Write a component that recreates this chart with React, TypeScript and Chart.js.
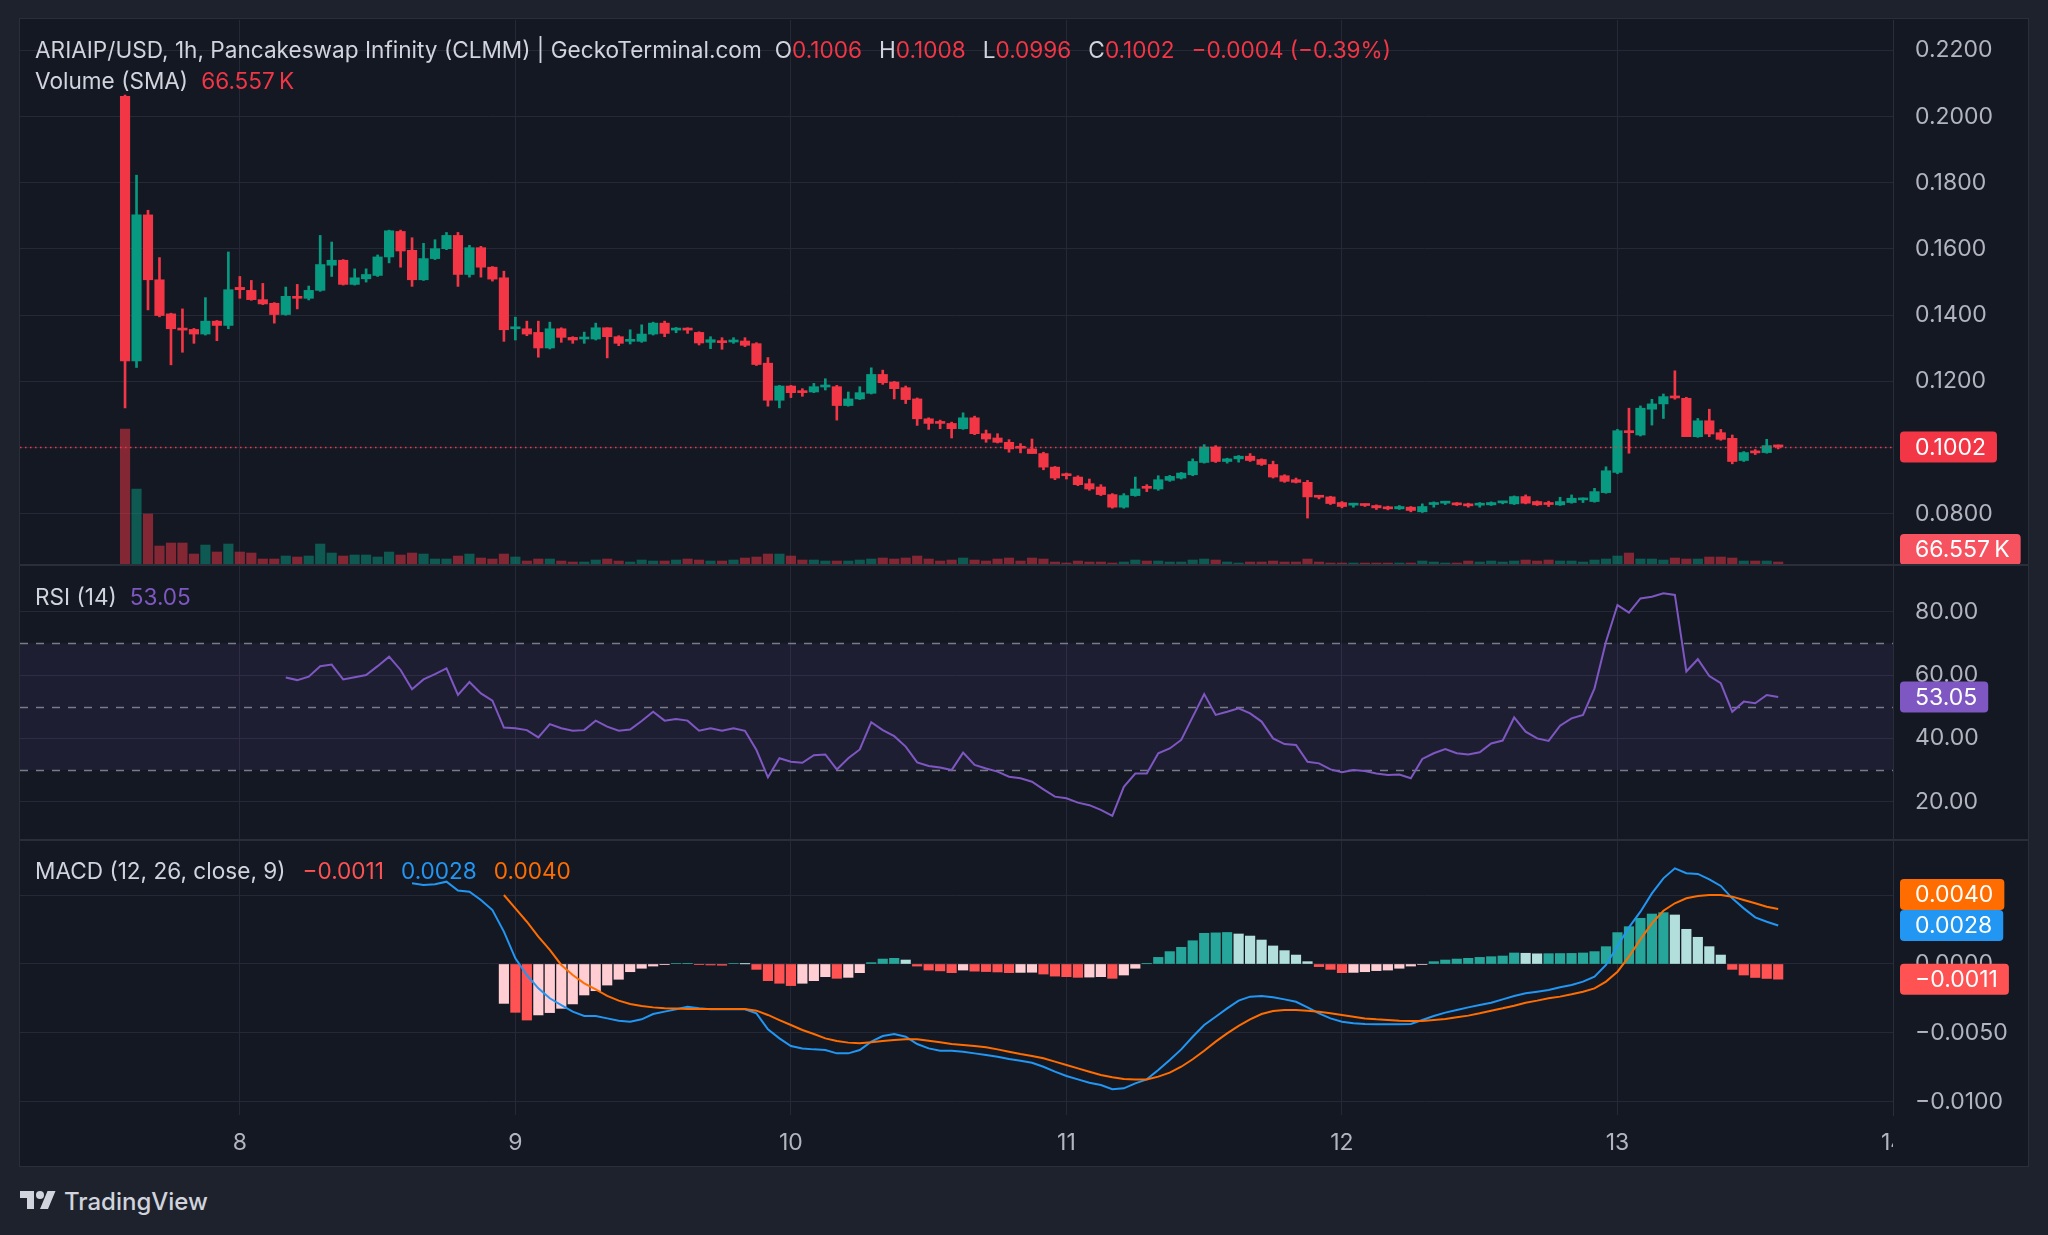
import React, { useEffect, useRef } from "react";
import { Chart, registerables } from "chart.js";
Chart.register(...registerables);

// ---------- data (hourly candles, index 0 = 7th 14:00) ----------
const OPEN = [
  0.2061, 0.1262, 0.1703, 0.1507, 0.1404, 0.1359, 0.1357, 0.1343, 0.1382, 0.1369,
  0.1484, 0.1475, 0.1447, 0.1436, 0.1402, 0.1457, 0.1451, 0.1475, 0.1551, 0.1566,
  0.1493, 0.1510, 0.1520, 0.1576, 0.1653, 0.1596, 0.1507, 0.1571, 0.1601, 0.1641,
  0.1523, 0.1604, 0.1545, 0.1513, 0.1359, 0.1359, 0.1348, 0.1301, 0.1359, 0.1333,
  0.1328, 0.1328, 0.1362, 0.1335, 0.1321, 0.1321, 0.1343, 0.1376, 0.1355, 0.1357,
  0.1348, 0.1318, 0.1322, 0.1319, 0.1322, 0.1314, 0.1255, 0.1143, 0.1186, 0.1170,
  0.1168, 0.1183, 0.1184, 0.1127, 0.1147, 0.1164, 0.1221, 0.1198, 0.1181, 0.1147,
  0.1087, 0.1075, 0.1073, 0.1057, 0.1090, 0.1042, 0.1029, 0.1016, 0.1000, 0.0996,
  0.0982, 0.0941, 0.0918, 0.0911, 0.0891, 0.0881, 0.0858, 0.0820, 0.0855, 0.0879,
  0.0875, 0.0901, 0.0908, 0.0918, 0.0955, 0.1002, 0.0958, 0.0966, 0.0974, 0.0964,
  0.0949, 0.0915, 0.0903, 0.0895, 0.0853, 0.0851, 0.0834, 0.0826, 0.0828, 0.0825,
  0.0821, 0.0815, 0.0820, 0.0806, 0.0828, 0.0832, 0.0832, 0.0830, 0.0826, 0.0827,
  0.0833, 0.0830, 0.0852, 0.0837, 0.0832, 0.0827, 0.0834, 0.0842, 0.0837, 0.0864,
  0.0925, 0.1048, 0.1038, 0.1116, 0.1132, 0.1154, 0.1149, 0.1033, 0.1081, 0.1045,
  0.1028, 0.0961, 0.0986, 0.0985, 0.1006,
];
const HIGH = [
  0.2065, 0.1823, 0.1717, 0.1574, 0.1406, 0.1419, 0.1360, 0.1453, 0.1384, 0.1591,
  0.1517, 0.1505, 0.1496, 0.1438, 0.1485, 0.1493, 0.1488, 0.1641, 0.1621, 0.1568,
  0.1540, 0.1540, 0.1582, 0.1657, 0.1657, 0.1634, 0.1617, 0.1628, 0.1650, 0.1650,
  0.1611, 0.1608, 0.1547, 0.1533, 0.1394, 0.1382, 0.1382, 0.1379, 0.1362, 0.1335,
  0.1349, 0.1376, 0.1362, 0.1338, 0.1356, 0.1371, 0.1379, 0.1382, 0.1363, 0.1362,
  0.1350, 0.1335, 0.1332, 0.1332, 0.1332, 0.1317, 0.1272, 0.1188, 0.1188, 0.1178,
  0.1194, 0.1208, 0.1188, 0.1168, 0.1184, 0.1241, 0.1234, 0.1200, 0.1186, 0.1150,
  0.1090, 0.1083, 0.1077, 0.1105, 0.1095, 0.1053, 0.1042, 0.1024, 0.1012, 0.1026,
  0.0986, 0.0943, 0.0923, 0.0915, 0.0905, 0.0888, 0.0861, 0.0861, 0.0911, 0.0888,
  0.0915, 0.0916, 0.0925, 0.0966, 0.1009, 0.1006, 0.0968, 0.0976, 0.0982, 0.0966,
  0.0959, 0.0918, 0.0908, 0.0901, 0.0855, 0.0853, 0.0837, 0.0832, 0.0830, 0.0827,
  0.0823, 0.0825, 0.0822, 0.0830, 0.0836, 0.0838, 0.0834, 0.0832, 0.0834, 0.0836,
  0.0838, 0.0854, 0.0857, 0.0839, 0.0838, 0.0850, 0.0857, 0.0848, 0.0877, 0.0942,
  0.1055, 0.1119, 0.1126, 0.1146, 0.1162, 0.1232, 0.1152, 0.1088, 0.1116, 0.1055,
  0.1038, 0.0988, 0.0994, 0.1025, 0.1008,
];
const LOW = [
  0.1120, 0.1242, 0.1416, 0.1395, 0.1250, 0.1288, 0.1315, 0.1340, 0.1323, 0.1359,
  0.1451, 0.1445, 0.1432, 0.1376, 0.1400, 0.1419, 0.1446, 0.1472, 0.1517, 0.1491,
  0.1491, 0.1500, 0.1517, 0.1558, 0.1545, 0.1487, 0.1505, 0.1568, 0.1598, 0.1487,
  0.1515, 0.1515, 0.1503, 0.1321, 0.1325, 0.1338, 0.1273, 0.1298, 0.1318, 0.1315,
  0.1315, 0.1325, 0.1271, 0.1308, 0.1313, 0.1318, 0.1340, 0.1335, 0.1347, 0.1345,
  0.1310, 0.1299, 0.1297, 0.1315, 0.1305, 0.1248, 0.1125, 0.1120, 0.1151, 0.1155,
  0.1166, 0.1174, 0.1083, 0.1125, 0.1145, 0.1162, 0.1191, 0.1147, 0.1133, 0.1067,
  0.1055, 0.1057, 0.1029, 0.1055, 0.1039, 0.1016, 0.1014, 0.0986, 0.0984, 0.0982,
  0.0933, 0.0903, 0.0905, 0.0885, 0.0871, 0.0855, 0.0817, 0.0817, 0.0853, 0.0867,
  0.0871, 0.0898, 0.0905, 0.0915, 0.0953, 0.0955, 0.0953, 0.0956, 0.0958, 0.0946,
  0.0908, 0.0895, 0.0893, 0.0787, 0.0845, 0.0828, 0.0818, 0.0820, 0.0822, 0.0813,
  0.0812, 0.0813, 0.0806, 0.0804, 0.0820, 0.0828, 0.0825, 0.0820, 0.0820, 0.0825,
  0.0830, 0.0828, 0.0830, 0.0825, 0.0822, 0.0825, 0.0832, 0.0834, 0.0835, 0.0862,
  0.0921, 0.0983, 0.1035, 0.1068, 0.1088, 0.1146, 0.1033, 0.1031, 0.1033, 0.1022,
  0.0951, 0.0958, 0.0979, 0.0983, 0.0996,
];
const CLOSE = [
  0.1262, 0.1703, 0.1507, 0.1399, 0.1359, 0.1355, 0.1343, 0.1382, 0.1369, 0.1477,
  0.1477, 0.1447, 0.1434, 0.1402, 0.1457, 0.1451, 0.1475, 0.1553, 0.1566, 0.1493,
  0.1513, 0.1523, 0.1576, 0.1655, 0.1594, 0.1507, 0.1571, 0.1601, 0.1641, 0.1523,
  0.1604, 0.1545, 0.1509, 0.1356, 0.1362, 0.1343, 0.1301, 0.1359, 0.1333, 0.1325,
  0.1331, 0.1362, 0.1335, 0.1315, 0.1323, 0.1343, 0.1376, 0.1345, 0.1357, 0.1355,
  0.1316, 0.1326, 0.1317, 0.1325, 0.1309, 0.1251, 0.1143, 0.1186, 0.1166, 0.1166,
  0.1184, 0.1186, 0.1127, 0.1147, 0.1166, 0.1221, 0.1196, 0.1178, 0.1145, 0.1087,
  0.1073, 0.1073, 0.1057, 0.1090, 0.1042, 0.1026, 0.1016, 0.0996, 0.0998, 0.0982,
  0.0941, 0.0908, 0.0915, 0.0888, 0.0875, 0.0858, 0.0820, 0.0855, 0.0875, 0.0877,
  0.0903, 0.0913, 0.0923, 0.0958, 0.1002, 0.0958, 0.0966, 0.0974, 0.0961, 0.0949,
  0.0911, 0.0898, 0.0895, 0.0851, 0.0850, 0.0831, 0.0822, 0.0828, 0.0825, 0.0818,
  0.0815, 0.0822, 0.0810, 0.0822, 0.0830, 0.0834, 0.0827, 0.0824, 0.0828, 0.0834,
  0.0836, 0.0852, 0.0832, 0.0827, 0.0828, 0.0837, 0.0847, 0.0846, 0.0867, 0.0930,
  0.1051, 0.1045, 0.1119, 0.1132, 0.1154, 0.1150, 0.1033, 0.1081, 0.1041, 0.1025,
  0.0958, 0.0985, 0.0984, 0.1006, 0.1002,
];
const VOLUME_K = [
  2992, 1672, 1122, 418, 484, 484, 242, 440, 286, 462,
  286, 264, 132, 132, 198, 176, 198, 462, 264, 198,
  220, 220, 176, 286, 220, 264, 242, 132, 132, 198,
  242, 154, 132, 242, 176, 88, 132, 132, 88, 66,
  66, 110, 132, 88, 66, 110, 88, 88, 110, 132,
  110, 88, 88, 110, 154, 176, 242, 242, 198, 110,
  110, 88, 88, 88, 110, 132, 154, 132, 154, 198,
  132, 88, 110, 154, 110, 88, 132, 154, 88, 154,
  132, 66, 44, 88, 66, 66, 44, 66, 110, 88,
  88, 66, 66, 110, 132, 110, 66, 44, 66, 66,
  88, 66, 66, 132, 66, 44, 44, 44, 44, 44,
  44, 44, 44, 88, 66, 44, 44, 88, 66, 88,
  66, 88, 110, 88, 110, 88, 88, 66, 110, 132,
  198, 264, 132, 132, 110, 154, 132, 132, 176, 176,
  154, 88, 88, 88, 66.557,
];

const RSI_START = 14;
const RSI = [
  59.2, 58.4, 59.5, 62.8, 63.3, 58.6, 59.3, 60.0, 62.8, 65.8,
  61.6, 55.5, 58.6, 60.3, 62.1, 53.7, 57.8, 54.2, 51.9, 43.4,
  43.2, 42.6, 40.3, 44.5, 43.2, 42.4, 42.6, 45.6, 43.7, 42.4,
  42.8, 45.5, 48.4, 45.6, 46.1, 45.6, 42.4, 43.2, 42.4, 43.2,
  42.4, 36.3, 27.7, 33.7, 32.6, 32.3, 34.7, 34.9, 30.2, 33.7,
  36.5, 45.1, 42.6, 40.7, 37.4, 32.4, 31.3, 30.8, 30.0, 35.5,
  31.6, 30.5, 29.5, 27.9, 27.4, 26.3, 23.9, 21.6, 21.1, 19.7,
  18.9, 17.4, 15.5, 24.7, 28.9, 28.9, 35.3, 36.8, 39.5, 46.8,
  54.0, 47.4, 48.4, 49.5, 47.9, 45.3, 40.0, 38.2, 37.9, 32.6,
  32.1, 30.2, 29.3, 30.0, 29.7, 28.9, 28.4, 28.6, 27.4, 33.5,
  35.3, 36.6, 35.3, 34.9, 35.6, 38.4, 39.3, 46.6, 42.1, 40.0,
  39.2, 44.0, 46.3, 47.4, 55.8, 70.5, 82.1, 79.7, 84.2, 84.7,
  85.8, 85.3, 61.1, 65.0, 59.7, 57.4, 48.4, 51.6, 51.1, 53.7, 53.05,
];

const MACD_START = 25;
const MACD = [
  0.00586, 0.00574, 0.00579, 0.00598, 0.00533, 0.00525, 0.00465, 0.00392, 0.00235, 0.00041,
  -0.0008, -0.00177, -0.00249, -0.00298, -0.00346, -0.00378, -0.00378, -0.00395, -0.00412, -0.00419,
  -0.00402, -0.00363, -0.00346, -0.00329, -0.0031, -0.00322, -0.00329, -0.00329, -0.00329, -0.00329,
  -0.00358, -0.00475, -0.0054, -0.00596, -0.00613, -0.0062, -0.00625, -0.00649, -0.00649, -0.00625,
  -0.00564, -0.00523, -0.00508, -0.00528, -0.00581, -0.00613, -0.0063, -0.0063, -0.00637, -0.00649,
  -0.00661, -0.00673, -0.0069, -0.00702, -0.00717, -0.00746, -0.00782, -0.00813, -0.00838, -0.00862,
  -0.00879, -0.0091, -0.00903, -0.00867, -0.00838, -0.0077, -0.00697, -0.0062, -0.00528, -0.00443,
  -0.00383, -0.00322, -0.00266, -0.00237, -0.00232, -0.00242, -0.00257, -0.00274, -0.00315, -0.00358,
  -0.00395, -0.00419, -0.00431, -0.00436, -0.00438, -0.00438, -0.00438, -0.00436, -0.00407, -0.00378,
  -0.00353, -0.00334, -0.00315, -0.00298, -0.00281, -0.00257, -0.00232, -0.00213, -0.00201, -0.00189,
  -0.00169, -0.00153, -0.00128, -0.00092, -0.00007, 0.00131, 0.00266, 0.0038, 0.00513, 0.00622,
  0.00695, 0.00659, 0.00654, 0.00615, 0.00567, 0.00477, 0.00404, 0.00339, 0.00307, 0.0028,
];

const SIGNAL_START = 33;
const SIGNAL = [
  0.00501, 0.00404, 0.00307, 0.00199, 0.00102, -0.00007, -0.0008, -0.0014, -0.00184, -0.00232,
  -0.00266, -0.00291, -0.00305, -0.00315, -0.00322, -0.00324, -0.00327, -0.00327, -0.00327, -0.00327,
  -0.00327, -0.00327, -0.00339, -0.0037, -0.00407, -0.00443, -0.00479, -0.00508, -0.0054, -0.00559,
  -0.00571, -0.00576, -0.00569, -0.00559, -0.00552, -0.00547, -0.00547, -0.00557, -0.00569, -0.00581,
  -0.00588, -0.00596, -0.00605, -0.0062, -0.00637, -0.00654, -0.00668, -0.00685, -0.00709, -0.00734,
  -0.00758, -0.00782, -0.00806, -0.00823, -0.00835, -0.00838, -0.00838, -0.00818, -0.00789, -0.00746,
  -0.00692, -0.0063, -0.00564, -0.00504, -0.0045, -0.00402, -0.00363, -0.00341, -0.00334, -0.00334,
  -0.00339, -0.00346, -0.00358, -0.0037, -0.00383, -0.00395, -0.00402, -0.00407, -0.00412, -0.00414,
  -0.00414, -0.00407, -0.004, -0.00387, -0.00375, -0.00358, -0.00339, -0.00322, -0.00303, -0.00281,
  -0.00266, -0.00249, -0.00237, -0.0022, -0.00201, -0.00177, -0.00128, -0.00056, 0.00053, 0.00179,
  0.00295, 0.00387, 0.00441, 0.00477, 0.00494, 0.00501, 0.00501, 0.00489, 0.00465, 0.00441,
  0.00416, 0.004,
];

const HIST_START = 33;
const HIST = [
  -0.00286, -0.00351, -0.00407, -0.0037, -0.00353, -0.00322, -0.0029, -0.00225, -0.00194, -0.00153,
  -0.00111, -0.00056, -0.00031, -0.00015, -0.00005, 0.00004, 0.00005, -0.00005, -0.00007, -0.00009,
  0.00003, 0.00001, -0.00039, -0.00121, -0.0014, -0.00157, -0.0014, -0.00121, -0.00092, -0.00104,
  -0.00097, -0.00063, 0.0001, 0.00036, 0.00041, 0.00029, -0.00015, -0.00044, -0.0005, -0.00063,
  -0.00044, -0.00052, -0.00055, -0.00058, -0.00063, -0.00061, -0.0006, -0.00073, -0.00088, -0.00092,
  -0.00097, -0.00095, -0.00092, -0.00104, -0.0008, -0.00031, 0.00002, 0.00048, 0.0009, 0.00121,
  0.00169, 0.00223, 0.00226, 0.00229, 0.00218, 0.00203, 0.00174, 0.00131, 0.00097, 0.00065,
  0.00017, -0.00019, -0.00039, -0.00063, -0.00061, -0.00056, -0.00048, -0.00044, -0.00031, -0.00015,
  -0.00003, 0.00017, 0.00029, 0.00036, 0.00041, 0.00048, 0.00053, 0.00058, 0.0008, 0.00078,
  0.00074, 0.00075, 0.00076, 0.00077, 0.0008, 0.0009, 0.00126, 0.00228, 0.00271, 0.00332,
  0.00363, 0.00373, 0.00356, 0.00252, 0.00194, 0.00126, 0.00065, -0.00039, -0.0008, -0.00098,
  -0.00105, -0.0011,
];

const DAY_TICKS = [10, 34, 58, 82, 106, 130, 154];
const DAY_LABELS = ["8", "9", "10", "11", "12", "13", "14"];
const PRICE_TICKS = [0.08, 0.1, 0.12, 0.14, 0.16, 0.18, 0.2, 0.22];
const RSI_TICKS = [20, 40, 60, 80];
const MACD_TICKS = [-0.01, -0.005, 0, 0.005];

const TITLE = "ARIAIP/USD, 1h, Pancakeswap Infinity (CLMM) | GeckoTerminal.com";
const CHANGE_TEXT = "\u22120.0004 (\u22120.39%)";

// ---------- scale ranges ----------
const X_MIN = -9.15;
const X_MAX = 154.0;
const PRICE_MIN = 0.06453;
const PRICE_MAX = 0.22918;
const VOL_AXIS_MAX = 12000;
const RSI_MIN = 7.9;
const RSI_MAX = 94.75;
const MACD_MIN = -0.010966;
const MACD_MAX = 0.009005;

// ---------- style ----------
const FONT = "Inter, 'Noto Sans', 'DejaVu Sans', sans-serif";
const AXIS_FONT_SIZE = 23;
const HEAD_FONT_SIZE = 22.6;
const AXIS_W = 135;
const BG_OUTER = "#1E222D";
const BG_PANEL = "#141823";
const PANEL_BORDER = "#2A2E39";
const GRID = "#252937";
const SEP = "#2A2E39";
const TEXT = "#D1D4DC";
const AXIS_TEXT = "#B2B5BE";
const UP = "#089981";
const DOWN = "#F23645";
const VOL_UP = "rgba(8,153,129,0.5)";
const VOL_DOWN = "rgba(242,54,69,0.5)";
const RSI_COLOR = "#7E57C2";
const MACD_COLOR = "#2196F3";
const SIGNAL_COLOR = "#FF6D00";

const LAST = CLOSE.length - 1;
const IDX = CLOSE.map((_, i) => i);
const isUp = (i: number) => CLOSE[i] >= OPEN[i];

const fmtPrice = (v: number) => v.toFixed(4);
const fmtSigned4 = (v: number) => (v < 0 ? "\u2212" : "") + Math.abs(v).toFixed(4);
const fmtRsi = (v: number) => v.toFixed(2);
const fmtVol = (v: number) => v.toFixed(3) + "\u202FK";

type Box = { y: number; text: string; bg: string };
function drawBoxes(chart: any, boxes: Box[]) {
  const { ctx, chartArea } = chart;
  const h = 31;
  const list = boxes.map((b) => ({
    ...b,
    y: Math.max(chartArea.top + h / 2, Math.min(chartArea.bottom - h / 2, b.y)),
  }));
  list.sort((a, b) => b.y - a.y);
  for (let k = 1; k < list.length; k++) {
    if (list[k].y > list[k - 1].y - h) list[k].y = list[k - 1].y - h;
  }
  ctx.save();
  ctx.font = `${AXIS_FONT_SIZE}px ${FONT}`;
  ctx.textBaseline = "middle";
  ctx.textAlign = "left";
  list.forEach((b) => {
    const w = ctx.measureText(b.text).width;
    const x0 = chartArea.right + 7;
    ctx.fillStyle = b.bg;
    ctx.beginPath();
    ctx.roundRect(x0, b.y - h / 2, w + 26, h, 4);
    ctx.fill();
    ctx.fillStyle = "#FFFFFF";
    ctx.fillText(b.text, chartArea.right + 22, b.y + 1);
  });
  ctx.restore();
}

function zeroPadding(s: any) {
  s.paddingTop = 0;
  s.paddingBottom = 0;
  s.paddingLeft = 0;
  s.paddingRight = 0;
}

function xScaleCfg(axisHeight: number) {
  return {
    type: "linear",
    min: X_MIN,
    max: X_MAX,
    offset: false,
    afterBuildTicks: (s: any) => {
      s.ticks = DAY_TICKS.map((v) => ({ value: v }));
    },
    afterFit: (s: any) => {
      s.height = axisHeight;
      zeroPadding(s);
    },
    grid: { color: GRID, lineWidth: 1, drawTicks: false, offset: false },
    border: { display: false },
    ticks: { display: false },
  };
}

function yScaleCfg(min: number, max: number, ticks: number[], fmt: (v: number) => string) {
  return {
    type: "linear",
    position: "right",
    min,
    max,
    afterBuildTicks: (s: any) => {
      s.ticks = ticks.map((v) => ({ value: v }));
    },
    afterFit: (s: any) => {
      s.width = AXIS_W;
      zeroPadding(s);
    },
    grid: { color: GRID, lineWidth: 1, drawTicks: false },
    border: { display: true, color: SEP, width: 1 },
    ticks: {
      color: AXIS_TEXT,
      font: { family: FONT, size: AXIS_FONT_SIZE },
      padding: 22,
      autoSkip: false,
      callback: (v: any) => fmt(Number(v)),
    },
  };
}

const baseOptions = {
  responsive: false,
  animation: false,
  devicePixelRatio: 1,
  events: [],
  layout: { padding: 0, autoPadding: false },
  plugins: { legend: { display: false }, tooltip: { enabled: false } },
};

function buildMain(canvas: HTMLCanvasElement) {
  const lastLine = {
    id: "lastLine",
    afterDatasetsDraw(chart: any) {
      const { ctx, chartArea: a, scales } = chart;
      const y = Math.round(scales.y.getPixelForValue(CLOSE[LAST])) + 0.5;
      ctx.save();
      ctx.strokeStyle = DOWN;
      ctx.lineWidth = 1.5;
      ctx.setLineDash([1.5, 3.5]);
      ctx.beginPath();
      ctx.moveTo(a.left, y);
      ctx.lineTo(a.right, y);
      ctx.stroke();
      ctx.restore();
    },
  };
  const boxes = {
    id: "mainBoxes",
    afterDraw(chart: any) {
      drawBoxes(chart, [
        { y: chart.scales.y.getPixelForValue(CLOSE[LAST]), text: fmtPrice(CLOSE[LAST]), bg: isUp(LAST) ? UP : DOWN },
        { y: chart.scales.yv.getPixelForValue(VOLUME_K[LAST]), text: fmtVol(VOLUME_K[LAST]), bg: "#F7525F" },
      ]);
    },
  };
  return new Chart(canvas, {
    type: "bar",
    data: {
      datasets: [
        {
          label: "Volume",
          yAxisID: "yv",
          data: IDX.map((i) => ({ x: i, y: VOLUME_K[i] })),
          backgroundColor: IDX.map((i) => (isUp(i) ? VOL_UP : VOL_DOWN)),
          barThickness: 9.5,
          grouped: false,
          order: 3,
        },
        {
          label: "Wick",
          yAxisID: "y",
          data: IDX.map((i) => ({ x: i, y: [LOW[i], HIGH[i]] })),
          backgroundColor: IDX.map((i) => (isUp(i) ? UP : DOWN)),
          barThickness: 2,
          grouped: false,
          order: 2,
        },
        {
          label: "Body",
          yAxisID: "y",
          data: IDX.map((i) => ({ x: i, y: [OPEN[i], CLOSE[i]] })),
          backgroundColor: IDX.map((i) => (isUp(i) ? UP : DOWN)),
          barThickness: 9.5,
          minBarLength: 2,
          grouped: false,
          order: 1,
        },
      ],
    },
    options: {
      ...baseOptions,
      scales: {
        x: xScaleCfg(0),
        y: yScaleCfg(PRICE_MIN, PRICE_MAX, PRICE_TICKS, fmtPrice),
        yv: { type: "linear", display: false, min: 0, max: VOL_AXIS_MAX, afterFit: zeroPadding },
      },
    },
    plugins: [lastLine, boxes],
  } as any);
}

function buildRsi(canvas: HTMLCanvasElement) {
  const band = {
    id: "rsiBand",
    beforeDatasetsDraw(chart: any) {
      const { ctx, chartArea: a, scales } = chart;
      const y = scales.y;
      const top = y.getPixelForValue(70);
      const bot = y.getPixelForValue(30);
      ctx.save();
      ctx.fillStyle = "rgba(126,87,194,0.1)";
      ctx.fillRect(a.left, top, a.right - a.left, bot - top);
      ctx.strokeStyle = "#787B86";
      ctx.lineWidth = 1.5;
      ctx.setLineDash([8, 8]);
      [70, 50, 30].forEach((v) => {
        const yy = Math.round(y.getPixelForValue(v)) + 0.5;
        ctx.beginPath();
        ctx.moveTo(a.left, yy);
        ctx.lineTo(a.right, yy);
        ctx.stroke();
      });
      ctx.restore();
    },
  };
  const boxes = {
    id: "rsiBoxes",
    afterDraw(chart: any) {
      const v = RSI[RSI.length - 1];
      drawBoxes(chart, [{ y: chart.scales.y.getPixelForValue(v), text: fmtRsi(v), bg: RSI_COLOR }]);
    },
  };
  return new Chart(canvas, {
    type: "line",
    data: {
      datasets: [
        {
          label: "RSI",
          data: RSI.map((v, k) => ({ x: k + RSI_START, y: v })),
          borderColor: RSI_COLOR,
          borderWidth: 2,
          pointRadius: 0,
          tension: 0,
        },
      ],
    },
    options: {
      ...baseOptions,
      scales: {
        x: xScaleCfg(0),
        y: yScaleCfg(RSI_MIN, RSI_MAX, RSI_TICKS, fmtRsi),
      },
    },
    plugins: [band, boxes],
  } as any);
}

function histColor(k: number) {
  const v = HIST[k];
  const prev = k > 0 ? HIST[k - 1] : undefined;
  if (v >= 0) return prev === undefined || v >= prev ? "#26A69A" : "#B2DFDB";
  return prev !== undefined && v < prev ? "#FF5252" : "#FFCDD2";
}

function buildMacd(canvas: HTMLCanvasElement) {
  const timeLabels = {
    id: "timeLabels",
    afterDraw(chart: any) {
      const { ctx, chartArea: a, scales } = chart;
      ctx.save();
      ctx.beginPath();
      ctx.rect(a.left, a.bottom, a.right - a.left, chart.height - a.bottom);
      ctx.clip();
      ctx.font = `${AXIS_FONT_SIZE}px ${FONT}`;
      ctx.fillStyle = AXIS_TEXT;
      ctx.textAlign = "center";
      ctx.textBaseline = "middle";
      DAY_TICKS.forEach((v, k) => {
        ctx.fillText(DAY_LABELS[k], scales.x.getPixelForValue(v), a.bottom + 28);
      });
      ctx.restore();
    },
  };
  const boxes = {
    id: "macdBoxes",
    afterDraw(chart: any) {
      const y = chart.scales.y;
      const s = SIGNAL[SIGNAL.length - 1];
      const m = MACD[MACD.length - 1];
      const h = HIST[HIST.length - 1];
      drawBoxes(chart, [
        { y: y.getPixelForValue(s), text: fmtSigned4(s), bg: SIGNAL_COLOR },
        { y: y.getPixelForValue(m), text: fmtSigned4(m), bg: MACD_COLOR },
        { y: y.getPixelForValue(h), text: fmtSigned4(h), bg: "#FF5252" },
      ]);
    },
  };
  return new Chart(canvas, {
    type: "bar",
    data: {
      datasets: [
        {
          type: "bar",
          label: "Histogram",
          data: HIST.map((v, k) => ({ x: k + HIST_START, y: v })),
          backgroundColor: HIST.map((_, k) => histColor(k)),
          barThickness: 9.5,
          grouped: false,
          order: 3,
        },
        {
          type: "line",
          label: "MACD",
          data: MACD.map((v, k) => ({ x: k + MACD_START, y: v })),
          borderColor: MACD_COLOR,
          borderWidth: 2,
          pointRadius: 0,
          tension: 0,
          order: 2,
        },
        {
          type: "line",
          label: "Signal",
          data: SIGNAL.map((v, k) => ({ x: k + SIGNAL_START, y: v })),
          borderColor: SIGNAL_COLOR,
          borderWidth: 2,
          pointRadius: 0,
          tension: 0,
          order: 1,
        },
      ],
    },
    options: {
      ...baseOptions,
      scales: {
        x: xScaleCfg(51),
        y: yScaleCfg(MACD_MIN, MACD_MAX, MACD_TICKS, fmtSigned4),
      },
    },
    plugins: [timeLabels, boxes],
  } as any);
}

export default function App() {
  const mainRef = useRef<HTMLCanvasElement>(null);
  const rsiRef = useRef<HTMLCanvasElement>(null);
  const macdRef = useRef<HTMLCanvasElement>(null);

  useEffect(() => {
    document.body.style.margin = "0";
    document.body.style.background = BG_OUTER;
    const charts = [
      buildMain(mainRef.current as HTMLCanvasElement),
      buildRsi(rsiRef.current as HTMLCanvasElement),
      buildMacd(macdRef.current as HTMLCanvasElement),
    ];
    return () => charts.forEach((c) => c.destroy());
  }, []);

  const line: React.CSSProperties = {
    position: "absolute",
    left: 35,
    whiteSpace: "nowrap",
    fontSize: HEAD_FONT_SIZE,
    lineHeight: "30px",
    color: TEXT,
  };
  const gap = { marginLeft: 13 };
  const gapWide = { marginLeft: 17 };
  const rsiLast = RSI[RSI.length - 1];

  return (
    <div
      style={{
        position: "fixed",
        left: 0,
        top: 0,
        width: 2048,
        height: 1235,
        background: BG_OUTER,
        overflow: "hidden",
        fontFamily: FONT,
      }}
    >
      <div
        style={{
          position: "absolute",
          left: 19,
          top: 18,
          width: 2010,
          height: 1149,
          background: BG_PANEL,
          border: `1px solid ${PANEL_BORDER}`,
          boxSizing: "border-box",
        }}
      />
      <canvas ref={mainRef} width={2008} height={545} style={{ position: "absolute", left: 20, top: 20 }} />
      <canvas ref={rsiRef} width={2008} height={275} style={{ position: "absolute", left: 20, top: 565 }} />
      <canvas ref={macdRef} width={2008} height={326} style={{ position: "absolute", left: 20, top: 840 }} />
      <div style={{ position: "absolute", left: 20, top: 564, width: 2008, height: 2, background: SEP }} />
      <div style={{ position: "absolute", left: 20, top: 839, width: 2008, height: 2, background: SEP }} />

      <div style={{ ...line, top: 35 }}>
        <span>{TITLE}</span>
        <span style={gap}>O</span>
        <span style={{ color: DOWN }}>{fmtPrice(OPEN[LAST])}</span>
        <span style={gapWide}>H</span>
        <span style={{ color: DOWN }}>{fmtPrice(HIGH[LAST])}</span>
        <span style={gapWide}>L</span>
        <span style={{ color: DOWN }}>{fmtPrice(LOW[LAST])}</span>
        <span style={gapWide}>C</span>
        <span style={{ color: DOWN }}>{fmtPrice(CLOSE[LAST])}</span>
        <span style={{ ...gapWide, color: DOWN }}>{CHANGE_TEXT}</span>
      </div>
      <div style={{ ...line, top: 66 }}>
        <span>Volume (SMA)</span>
        <span style={{ ...gap, color: DOWN }}>{fmtVol(VOLUME_K[LAST])}</span>
      </div>
      <div style={{ ...line, top: 582 }}>
        <span>RSI (14)</span>
        <span style={{ ...gap, color: RSI_COLOR }}>{fmtRsi(rsiLast)}</span>
      </div>
      <div style={{ ...line, top: 856 }}>
        <span>MACD (12, 26, close, 9)</span>
        <span style={{ ...gapWide, color: "#FF5252" }}>{fmtSigned4(HIST[HIST.length - 1])}</span>
        <span style={{ ...gapWide, color: MACD_COLOR }}>{fmtSigned4(MACD[MACD.length - 1])}</span>
        <span style={{ ...gapWide, color: SIGNAL_COLOR }}>{fmtSigned4(SIGNAL[SIGNAL.length - 1])}</span>
      </div>

      <div
        style={{
          position: "absolute",
          left: 20,
          top: 1186,
          height: 30,
          display: "flex",
          alignItems: "center",
          color: TEXT,
        }}
      >
        <svg width="36" height="28" viewBox="0 0 36 28" fill={TEXT}>
          <path d="M14 22H7V11H0V4h14v18zM28 22h-8l7.5-18h8L28 22z" />
          <circle cx="20" cy="8" r="4" />
        </svg>
        <span style={{ marginLeft: 8, fontSize: 24, fontWeight: 500 }}>TradingView</span>
      </div>
    </div>
  );
}
